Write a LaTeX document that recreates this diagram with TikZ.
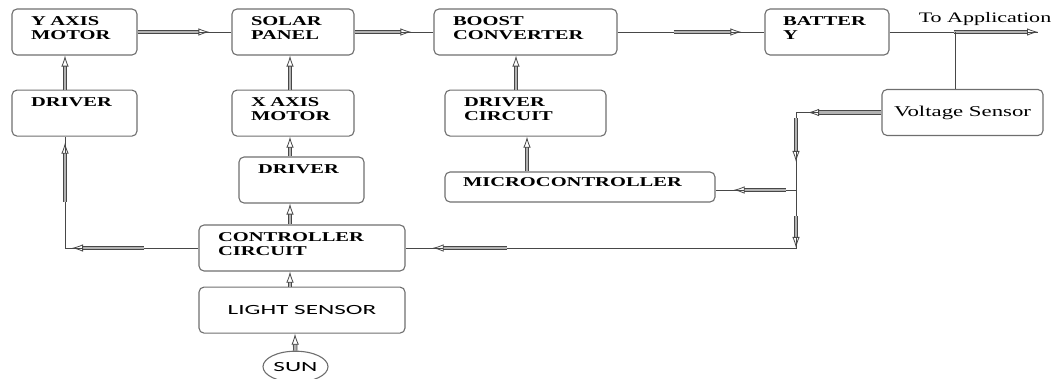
\documentclass[tikz,border=0pt]{standalone}
\usepackage{fontspec}
\usepackage{tikz}
\usetikzlibrary{arrows.meta, positioning, shapes.geometric}
\newfontfamily\boxfont[FakeStretch=1.52]{Liberation Serif}
\newfontfamily\calfont[FakeStretch=1.8]{Carlito}
\definecolor{boxgray}{HTML}{6E6E6E}
\definecolor{wiregray}{HTML}{474747}
\hyphenpenalty=10000

\begin{document}
\begin{tikzpicture}[
      x=1pt, y=-1pt,
      box/.style={draw=boxgray, line width=1.1pt, rounded corners=5pt, align=left,
                  font=\boxfont\bfseries\fontsize{13.5}{14}\selectfont,
                  inner xsep=19pt, inner ysep=7pt, text height=9.5pt, text depth=22.5pt},
      centbox/.style={draw=boxgray, line width=1.1pt, rounded corners=5pt, inner sep=0pt,
                  align=center, minimum width=206pt, minimum height=46pt},
      wire/.style={draw=wiregray, line width=0.8pt},
      dbl/.style={draw=wiregray, line width=0.8pt, double=gray!60, double distance=2.8pt,
                  -{Latex[open, length=11pt, width=7.5pt, line width=0.8pt]}},
      txt/.style={inner sep=0pt, font=\boxfont\fontsize{14.5}{14.5}\selectfont}
    ]
    \useasboundingbox (0,0) rectangle (1062,379);

    \node[box, text width=87pt]  (ymot)  at (74.5,32)  {Y AXIS\\MOTOR};
    \node[box, text width=84pt]  (solar) at (293,32)   {SOLAR\\PANEL};
    \node[box, text width=145pt] (boost) at (525.5,32) {BOOST\\CONVERTER};
    \node[box, text width=88pt, inner xsep=18pt] (batt) at (827,32) {BATTER\\Y};
    \node[box, text width=87pt,  below=34pt of ymot]  (ydrv) {DRIVER};
    \node[box, text width=84pt,  below=34pt of solar] (xmot) {X AXIS\\MOTOR};
    \node[box, text width=123pt, below=34pt of boost] (drvc) {DRIVER\\CIRCUIT};
    \node[centbox, minimum width=161pt, font=\boxfont\fontsize{15}{15}\selectfont]
         (vsens) at (962.5,112.5) {Voltage Sensor};
    \node[box, text width=87pt]  (xdrv)  at (301.5,180) {DRIVER};
    \node[box, text width=234pt, inner xsep=18pt, inner ysep=5pt, text depth=10.5pt]
         (mcu) at (580,187) {MICROCONTROLLER};
    \node[box, text width=168pt] (ctrl)  at (302,248)   {CONTROLLER\\CIRCUIT};
    \node[centbox, below=15pt of ctrl, font=\calfont\fontsize{14}{14}\selectfont]
         (light) {LIGHT SENSOR};
    \node[draw=boxgray, line width=1.1pt, ellipse, minimum width=65pt, minimum height=31pt,
          inner sep=0pt, font=\calfont\fontsize{14}{14}\selectfont,
          below=17pt of light, xshift=-6.5pt] (sun) {SUN};

    \node[txt, anchor=base] (apptxt) at (985,23) {To Application};

    \coordinate (app) at (1038,32);
    \coordinate (tap) at (955,32);
    \coordinate (j1)  at (796,112.5);
    \coordinate (j2)  at (796,190);
    \coordinate (j3)  at (796,248);
    \coordinate (c1)  at (65,248);

    \draw[wire] (ymot) -- (solar);
    \draw[dbl, shorten >=22pt] (ymot) -- (solar);
    \draw[wire] (solar) -- (boost);
    \draw[dbl, shorten >=22pt] (solar) -- (boost);
    \draw[wire] (boost) -- (batt);
    \draw[dbl, shorten <=56pt, shorten >=23pt] (boost) -- (batt);
    \draw[wire] (batt) -- (app);
    \draw[dbl, shorten <=64pt] (batt) -- (app);
    \draw[wire] (tap) -- (tap |- vsens.north);

    \draw[wire] (vsens.west) -- (j1) -- (j3) -- (ctrl.east |- j3);
    \draw[wire] (j2) -- (j2 -| mcu.east);
    \draw[wire] (ctrl.west |- c1) -- (c1) -- ([xshift=-9.5pt]ydrv.south);
    \draw[dbl, shorten >=12pt] (vsens.west) -- (j1);
    \draw[dbl, shorten <=6pt, shorten >=28pt] (j1) -- (j2);
    \draw[dbl, shorten <=10pt, shorten >=18pt] (j2) -- (j2 -| mcu.east);
    \draw[dbl, shorten <=26pt] (j2) -- (j3);
    \draw[dbl, shorten <=289pt, shorten >=27pt] (j3) -- (ctrl.east |- j3);
    \draw[dbl, shorten <=54pt, shorten >=7pt] (ctrl.west |- c1) -- (c1);
    \draw[dbl, shorten <=46pt, shorten >=6pt] (c1) -- ([xshift=-9.5pt]ydrv.south);

    \draw[dbl] ([xshift=-9.5pt]ydrv.north) -- ([xshift=-9.5pt]ymot.south);
    \draw[dbl] ([xshift=-3pt]xmot.north)   -- ([xshift=-3pt]solar.south);
    \draw[dbl] ([xshift=-11.5pt]xdrv.north) -- ([xshift=-3pt]xmot.south);
    \draw[dbl] ([xshift=-12pt]ctrl.north)  -- ([xshift=-11.5pt]xdrv.south);
    \draw[dbl] ([xshift=-12pt]light.north) -- ([xshift=-12pt]ctrl.south);
    \draw[dbl] (sun) -- ([xshift=-7pt]light.south);
    \draw[dbl] ([xshift=-9.5pt]drvc.north) -- ([xshift=-9.5pt]boost.south);
    \draw[dbl] ([xshift=-53pt]mcu.north)   -- ([xshift=1.5pt]drvc.south);
  \end{tikzpicture}
\end{document}
